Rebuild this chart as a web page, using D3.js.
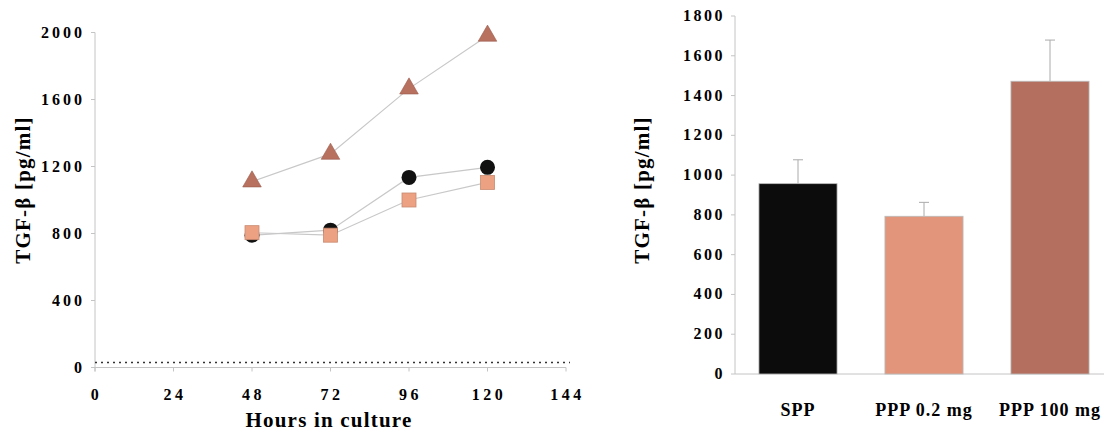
<!DOCTYPE html>
<html>
<head>
<meta charset="utf-8">
<script src="https://cdn.jsdelivr.net/npm/d3@7"></script>
<style>
  body { margin: 0; background: #fff; }
  svg { display: block; font-family: "Liberation Serif", "Times New Roman", serif; font-weight: bold; }
</style>
</head>
<body>
<svg width="1104" height="439"></svg>
<script>
// left panel: time course
const hours = [48, 72, 96, 120]
const triangleVals = [1110, 1275, 1665, 1980]
const circleVals = [790, 820, 1135, 1195]
const squareVals = [805, 790, 1000, 1105]
const baseline = 30
const xTicksLeft = [0, 24, 48, 72, 96, 120, 144]
const yTicksLeft = [0, 400, 800, 1200, 1600, 2000]

// right panel: bars
const groups = ["SPP", "PPP 0.2 mg", "PPP 100 mg"]
const barVals = [957, 793, 1472]
const barErr = [120, 70, 207]
const yTicksRight = [0, 200, 400, 600, 800, 1000, 1200, 1400, 1600, 1800]

const svg = d3.select("svg")
const axisCol = "#c4c4c4"

// ---------- left chart ----------
const x1 = d3.scaleLinear().domain([0, 144]).range([95, 566])
const y1 = d3.scaleLinear().domain([0, 2000]).range([367.5, 32.5])
const left = svg.append("g")

left.append("line").attr("x1", x1(0)).attr("x2", x1(144)).attr("y1", y1(0)).attr("y2", y1(0))
  .attr("stroke", axisCol)
left.append("line").attr("x1", x1(0)).attr("x2", x1(0)).attr("y1", y1(0) + 4).attr("y2", y1(2000))
  .attr("stroke", axisCol)

left.selectAll(".yt").data(yTicksLeft).enter().append("line")
  .attr("x1", x1(0) - 4).attr("x2", x1(0)).attr("y1", d => y1(d)).attr("y2", d => y1(d))
  .attr("stroke", axisCol)
left.selectAll(".xt").data(xTicksLeft).enter().append("line")
  .attr("x1", d => x1(d)).attr("x2", d => x1(d)).attr("y1", y1(0)).attr("y2", y1(0) + 4)
  .attr("stroke", axisCol)

left.selectAll(".ylab").data(yTicksLeft).enter().append("text")
  .attr("x", 85).attr("y", d => y1(d) + 5)
  .attr("text-anchor", "end").attr("font-size", 16).attr("letter-spacing", 3)
  .text(d => d)
left.selectAll(".xlab").data(xTicksLeft).enter().append("text")
  .attr("x", d => x1(d) + 1.5).attr("y", 400)
  .attr("text-anchor", "middle").attr("font-size", 16).attr("letter-spacing", 3.5)
  .text(d => d)

left.append("text").attr("x", 329).attr("y", 427).attr("text-anchor", "middle")
  .attr("font-size", 21).attr("letter-spacing", 1.2).text("Hours in culture")
left.append("text").attr("transform", "translate(30,190) rotate(-90)").attr("text-anchor", "middle")
  .attr("font-size", 21).attr("letter-spacing", 1.2).text("TGF-β [pg/ml]")

// dotted baseline
left.append("line").attr("x1", x1(0)).attr("x2", 570).attr("y1", y1(baseline)).attr("y2", y1(baseline))
  .attr("stroke", "#333").attr("stroke-width", 1.3).attr("stroke-dasharray", "2,4")

const line = d3.line().x((d, i) => x1(hours[i])).y(d => y1(d))
;[triangleVals, circleVals, squareVals].forEach(vals => {
  left.append("path").attr("d", line(vals)).attr("fill", "none")
    .attr("stroke", "#c8c8c8").attr("stroke-width", 1.2)
})

left.selectAll(".circ").data(circleVals).enter().append("circle")
  .attr("cx", (d, i) => x1(hours[i])).attr("cy", d => y1(d)).attr("r", 7.5)
  .attr("fill", "#111")
left.selectAll(".sq").data(squareVals).enter().append("rect")
  .attr("x", (d, i) => x1(hours[i]) - 7).attr("y", d => y1(d) - 7)
  .attr("width", 14).attr("height", 14)
  .attr("fill", "#eba182").attr("stroke", "#c98a70").attr("stroke-width", 0.8)
const tri = d3.symbol().type(d3.symbolTriangle).size(150)
left.selectAll(".tri").data(triangleVals).enter().append("path")
  .attr("d", tri)
  .attr("transform", (d, i) => `translate(${x1(hours[i])},${y1(d)})`)
  .attr("fill", "#b8705f").attr("stroke", "#9a5c4e").attr("stroke-width", 0.6)

// ---------- right chart ----------
const x2 = d3.scaleBand().domain(groups).range([735, 1113]).paddingInner(0.38).paddingOuter(0.19)
const y2 = d3.scaleLinear().domain([0, 1800]).range([374, 16])
const right = svg.append("g")
const barColors = ["#0c0c0c", "#e2957a", "#b46f5f"]

right.append("line").attr("x1", 735).attr("x2", 1104).attr("y1", y2(0)).attr("y2", y2(0))
  .attr("stroke", axisCol)
right.append("line").attr("x1", 735).attr("x2", 735).attr("y1", y2(0)).attr("y2", y2(1800))
  .attr("stroke", axisCol)
right.selectAll(".yt").data(yTicksRight).enter().append("line")
  .attr("x1", 731).attr("x2", 735).attr("y1", d => y2(d)).attr("y2", d => y2(d))
  .attr("stroke", axisCol)
right.selectAll(".ylab").data(yTicksRight).enter().append("text")
  .attr("x", 725).attr("y", d => y2(d) + 5)
  .attr("text-anchor", "end").attr("font-size", 16).attr("letter-spacing", 2.5)
  .text(d => d)

right.append("text").attr("transform", "translate(649,190) rotate(-90)").attr("text-anchor", "middle")
  .attr("font-size", 21).attr("letter-spacing", 1.2).text("TGF-β [pg/ml]")

right.selectAll(".err").data(barVals).enter().append("line")
  .attr("x1", (d, i) => x2(groups[i]) + x2.bandwidth() / 2)
  .attr("x2", (d, i) => x2(groups[i]) + x2.bandwidth() / 2)
  .attr("y1", d => y2(d)).attr("y2", (d, i) => y2(d + barErr[i]))
  .attr("stroke", "#aaa")
right.selectAll(".cap").data(barVals).enter().append("line")
  .attr("x1", (d, i) => x2(groups[i]) + x2.bandwidth() / 2 - 5)
  .attr("x2", (d, i) => x2(groups[i]) + x2.bandwidth() / 2 + 5)
  .attr("y1", (d, i) => y2(d + barErr[i])).attr("y2", (d, i) => y2(d + barErr[i]))
  .attr("stroke", "#aaa")

right.selectAll(".bar").data(barVals).enter().append("rect")
  .attr("x", (d, i) => x2(groups[i])).attr("width", x2.bandwidth())
  .attr("y", d => y2(d)).attr("height", d => y2(0) - y2(d))
  .attr("fill", (d, i) => barColors[i]).attr("stroke", "#bbb").attr("stroke-width", 0.8)

right.selectAll(".xlab").data(groups).enter().append("text")
  .attr("x", d => x2(d) + x2.bandwidth() / 2).attr("y", 416)
  .attr("text-anchor", "middle").attr("font-size", 18).attr("letter-spacing", 1)
  .text(d => d)
</script>
</body>
</html>
